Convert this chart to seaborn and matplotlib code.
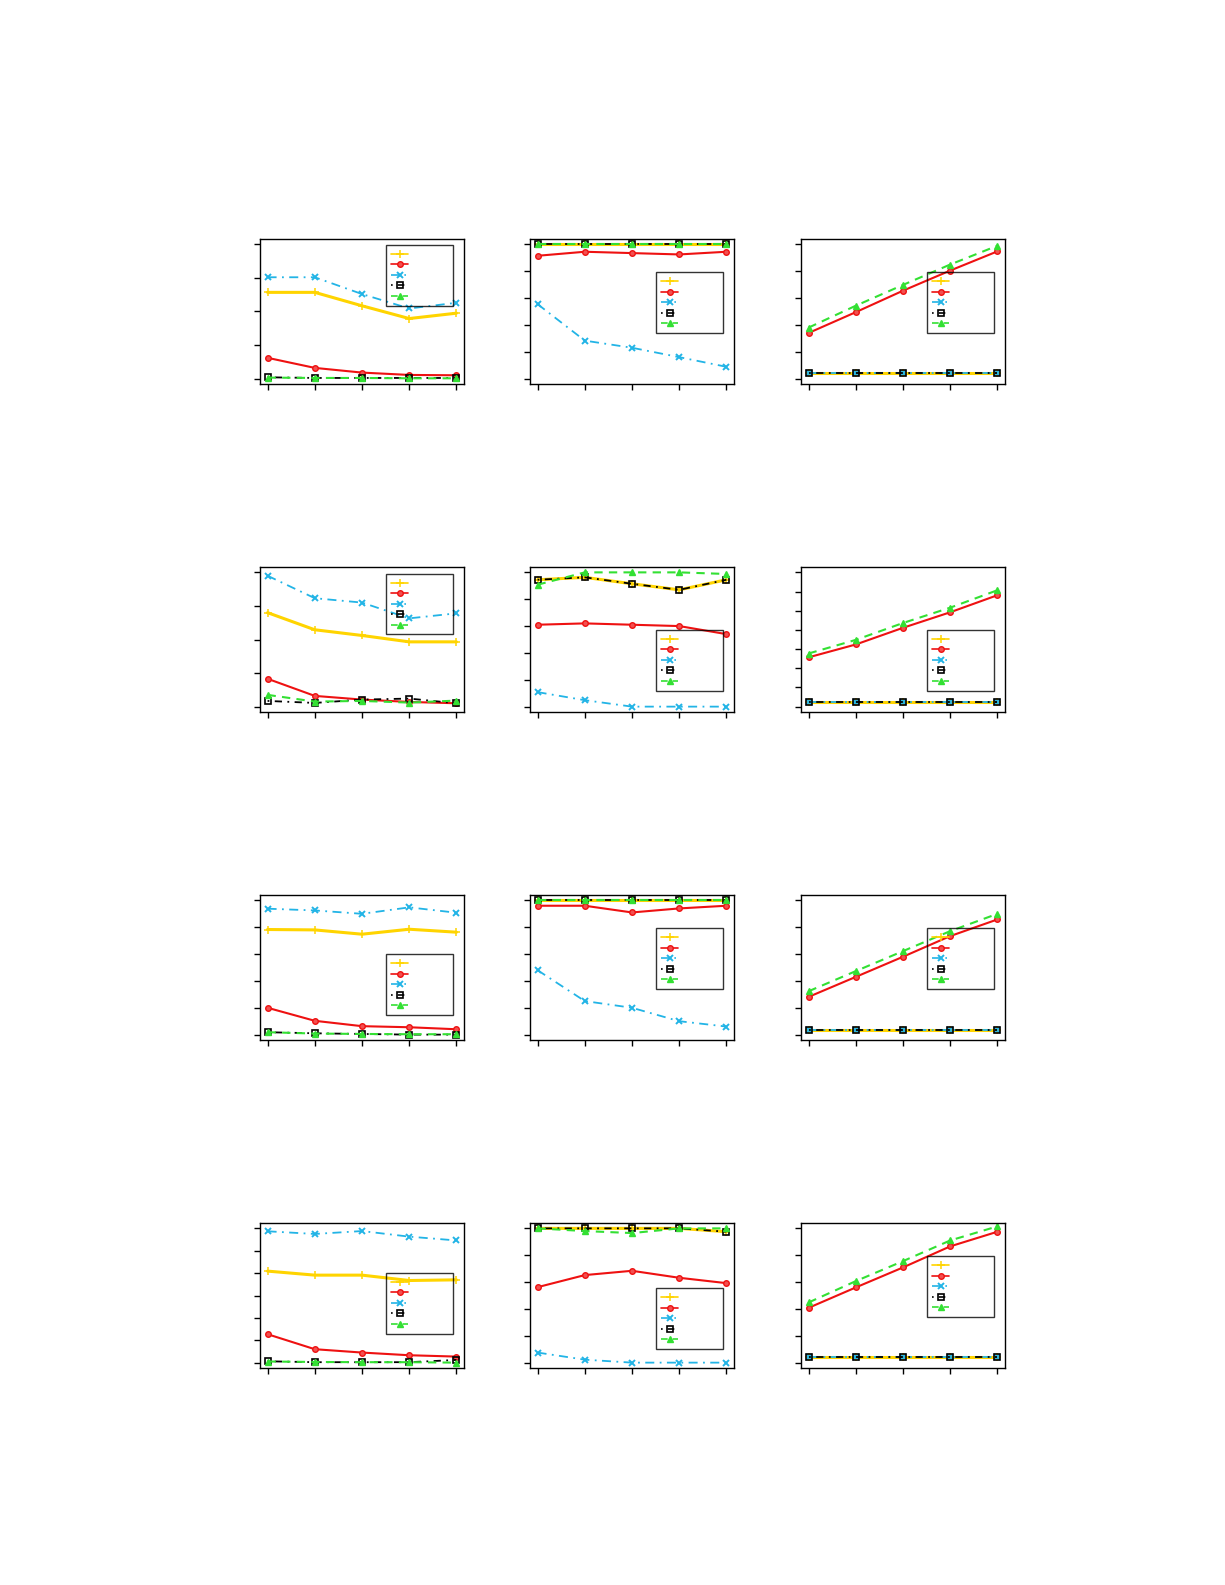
import numpy as np
import pandas as pd
import matplotlib
matplotlib.use("Agg")
import matplotlib.pyplot as plt
import seaborn as sns

sns.set_theme(style="white")
plt.rcParams['font.family'] = ['DejaVu Sans']

x_pos = [1, 2, 3, 4, 5]

# one list per panel, row by row (4 rows x 3 columns)
gold_vals = [
    [0.514, 0.514, 0.434, 0.358, 0.39], [1, 1, 1, 1, 1], [0.043] * 5,
    [0.56, 0.458, 0.424, 0.386, 0.386], [0.945, 0.963, 0.915, 0.87, 0.945], [0.023] * 5,
    [0.783, 0.78, 0.748, 0.785, 0.763], [1, 1, 1, 1, 1], [0.035] * 5,
    [0.409, 0.391, 0.391, 0.367, 0.37], [1, 1, 1, 1, 0.975], [0.042] * 5,
]
red_vals = [
    [0.124, 0.064, 0.036, 0.022, 0.02], [0.915, 0.945, 0.935, 0.925, 0.945], [0.34, 0.495, 0.655, 0.805, 0.948],
    [0.166, 0.064, 0.042, 0.028, 0.02], [0.61, 0.62, 0.61, 0.60, 0.54], [0.257, 0.324, 0.411, 0.492, 0.581],
    [0.2, 0.103, 0.063, 0.055, 0.04], [0.96, 0.96, 0.91, 0.94, 0.96], [0.281, 0.43, 0.58, 0.734, 0.858],
    [0.127, 0.06, 0.045, 0.033, 0.027], [0.562, 0.652, 0.684, 0.632, 0.592], [0.408, 0.56, 0.709, 0.866, 0.975],
]
cyan_vals = [
    [0.604, 0.604, 0.504, 0.418, 0.452], [0.555, 0.283, 0.23, 0.16, 0.088], [0.043] * 5,
    [0.78, 0.646, 0.62, 0.526, 0.556], [0.108, 0.048, 0.0, 0.0, 0.0], [0.023] * 5,
    [0.938, 0.925, 0.9, 0.948, 0.908], [0.48, 0.25, 0.2, 0.1, 0.06], [0.035] * 5,
    [0.587, 0.575, 0.588, 0.563, 0.546], [0.075, 0.022, 0.0, 0.0, 0.0], [0.042] * 5,
]
black_vals = [
    [0.008, 0.004, 0.004, 0.004, 0.004], [1, 1, 1, 1, 1], [0.043] * 5,
    [0.034, 0.022, 0.042, 0.048, 0.02], [0.945, 0.963, 0.915, 0.87, 0.945], [0.023] * 5,
    [0.018, 0.01, 0.005, 0.0, 0.0], [1, 1, 1, 1, 1], [0.035] * 5,
    [0.006, 0.002, 0.002, 0.002, 0.012], [1, 1, 1, 1, 0.975], [0.042] * 5,
]
green_vals = [
    [0.006, 0.004, 0.004, 0.002, 0.002], [1, 1, 1, 1, 1], [0.38, 0.543, 0.698, 0.85, 0.99],
    [0.07, 0.03, 0.034, 0.024, 0.036], [0.908, 1.0, 1.0, 1.0, 0.988], [0.277, 0.348, 0.436, 0.516, 0.607],
    [0.018, 0.008, 0.005, 0.003, 0.003], [1, 1, 1, 1, 1], [0.323, 0.473, 0.622, 0.771, 0.9],
    [0.005, 0.003, 0.002, 0.002, 0.0], [1.0, 0.98, 0.965, 1.0, 1.0], [0.448, 0.607, 0.756, 0.91, 1.015],
]

y_max = [0.8, 1, 1, 0.8, 1, 0.7, 1, 1, 1, 0.6, 1, 1]
y_step = [0.2, 0.2, 0.2, 0.2, 0.2, 0.1, 0.2, 0.2, 0.2, 0.1, 0.2, 0.2]
legend_top = [0.959, 0.771, 0.771, 0.954, 0.566, 0.566, 0.591, 0.770, 0.770, 0.655, 0.549, 0.770]

series = [
    ("gold", gold_vals, dict(color="#FFD400", lw=2.2, ls="-", marker="+", ms=6, mew=1.1)),
    ("red", red_vals, dict(color="#EE1111", lw=1.5, ls="-", marker="o", ms=4, mew=1.0, mfc="#F25050")),
    ("cyan", cyan_vals, dict(color="#22B4E6", lw=1.3, ls=(0, (5, 3, 1, 3)), marker="x", ms=4.5, mew=1.4)),
    ("black", black_vals, dict(color="black", lw=1.3, ls=(0, (1, 3, 4, 3)), marker="s", ms=5, mew=1.2, mfc="none")),
    ("green", green_vals, dict(color="#33E033", lw=1.5, ls=(0, (4, 3)), marker="^", ms=5, mew=1.0)),
]

W, H = 1225, 1585
fig = plt.figure(figsize=(W / 100, H / 100), dpi=100)

col_left = [260, 530, 801]
row_top = [239, 567, 895, 1223]
ax_w, ax_h = 204, 145

for i in range(12):
    r, c = divmod(i, 3)
    ax = fig.add_axes([col_left[c] / W, 1 - (row_top[r] + ax_h) / H, ax_w / W, ax_h / H])
    for name, vals, st in series:
        df = pd.DataFrame({"x": x_pos, "y": vals[i]})
        sns.lineplot(data=df, x="x", y="y", ax=ax, color=st["color"], linewidth=st["lw"],
                     linestyle=st["ls"], marker=st["marker"], markersize=st["ms"],
                     markeredgewidth=st["mew"], markerfacecolor=st.get("mfc", st["color"]),
                     markeredgecolor=st["color"], legend=False)
    ax.set_xlim(0.84, 5.16)
    ym = y_max[i]
    ax.set_ylim(-0.04 * ym, 1.04 * ym)
    ax.set_xticks(x_pos)
    ax.set_yticks(np.arange(0, ym + 1e-9, y_step[i]))
    ax.set_xticklabels([])
    ax.set_yticklabels([])
    ax.set_xlabel("")
    ax.set_ylabel("")
    ax.tick_params(direction="out", length=4, width=1, colors="black",
                   bottom=True, left=True)
    for sp in ax.spines.values():
        sp.set_visible(True)
        sp.set_color("black")
        sp.set_linewidth(1.0)
    leg = ax.legend(ax.get_lines(), ["      "] * 5, loc="upper left",
                    bbox_to_anchor=(0.62, legend_top[i] - 0.44, 0.328, 0.44),
                    mode="expand", fontsize=7, handlelength=1.8, handletextpad=0.3,
                    labelspacing=0.05, borderpad=0.45, borderaxespad=0,
                    fancybox=False, frameon=True)
    leg.get_frame().set_edgecolor("black")
    leg.get_frame().set_linewidth(1.0)
    leg.get_frame().set_facecolor("none")
    for hl in leg.get_lines():
        hl.set_linewidth(1.2)

fig.savefig("out.png", dpi=100, facecolor="white")
